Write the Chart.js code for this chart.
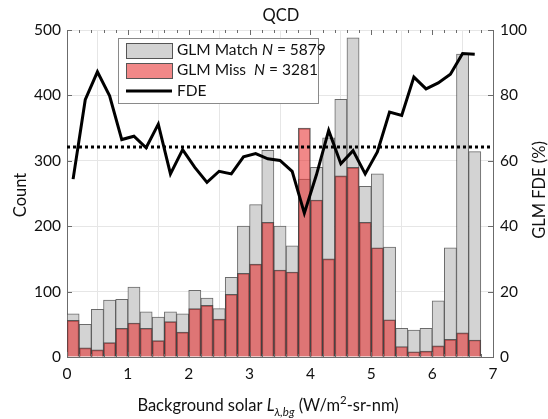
<!DOCTYPE html>
<html>
<head>
<meta charset="utf-8">
<script src="https://cdn.jsdelivr.net/npm/chart.js@4.4.0/dist/chart.umd.min.js"></script>
<style>
  html, body { margin: 0; padding: 0; background: #fff; }
</style>
</head>
<body>
<canvas id="myChart" width="548" height="419"></canvas>
<script>
// bin centres, 0.2 wide bins from 0 to 6.8
const binCenters = [0.1, 0.3, 0.5, 0.7, 0.9, 1.1, 1.3, 1.5, 1.7, 1.9,
    2.1, 2.3, 2.5, 2.7, 2.9, 3.1, 3.3, 3.5, 3.7, 3.9,
    4.1, 4.3, 4.5, 4.7, 4.9, 5.1, 5.3, 5.5, 5.7, 5.9,
    6.1, 6.3, 6.5, 6.7];
const matchCounts = [66, 50, 73, 87, 88, 107, 69, 61, 69, 66,
    102, 90, 74, 122, 200, 233, 316, 200, 170, 272,
    290, 335, 394, 488, 261, 280, 168, 44, 41, 44,
    86, 167, 463, 314];
const missCounts = [56, 14, 11, 22, 44, 52, 44, 25, 54, 38,
    74, 79, 58, 96, 128, 142, 206, 133, 130, 350,
    240, 150, 277, 290, 206, 167, 57, 16, 8, 9,
    17, 27, 37, 26];
const fdeValues = [54.4, 78.7, 87.2, 79.9, 66.5, 67.5, 64, 71.2, 56, 63.4,
    58, 53.4, 56.8, 56, 61.2, 62.2, 60.6, 60.1, 56.8, 44,
    55.8, 69.3, 59.1, 63.1, 56, 62.7, 74.9, 73.9, 85.6, 82,
    83.8, 86.5, 92.8, 92.6];
const overallFDE = 64.2;
const xTicks = [0, 1, 2, 3, 4, 5, 6, 7];
const countTicks = [0, 100, 200, 300, 400, 500];
const fdeTicks = [0, 20, 40, 60, 80, 100];
const legendNames = ["GLM Match", "GLM Miss", "FDE"];
const legendN = ["5879", "3281", null];

const FONT = "Lato, 'Open Sans', sans-serif";
const GREY = "rgb(211,211,211)";
const RED = "rgba(230,45,45,0.57)";

function pairs(xs, ys) {
    return xs.map((x, i) => ({ x: x, y: ys[i] }));
}

// text, axis ticks and legend drawn by hand (MATLAB look)
const decor = {
    id: 'decor',
    afterDraw(chart) {
        const ctx = chart.ctx;
        const a = chart.chartArea;
        const x = chart.scales.x, y = chart.scales.y, y2 = chart.scales.y2;
        ctx.save();

        // inward ticks
        ctx.strokeStyle = "#6b6b6b";
        ctx.lineWidth = 1;
        ctx.beginPath();
        for (let v = 0; v <= 7.001; v += 0.2) {
            const px = Math.round(x.getPixelForValue(v)) + 0.5;
            const major = Math.abs(v - Math.round(v)) < 0.01;
            const len = major ? 5 : 3;
            ctx.moveTo(px, a.top); ctx.lineTo(px, a.top + len);
            ctx.moveTo(px, a.bottom); ctx.lineTo(px, a.bottom - len);
        }
        countTicks.forEach(v => {
            const py = Math.round(y.getPixelForValue(v)) + 0.5;
            ctx.moveTo(a.left, py); ctx.lineTo(a.left + 5, py);
        });
        fdeTicks.forEach(v => {
            const py = Math.round(y2.getPixelForValue(v)) + 0.5;
            ctx.moveTo(a.right, py); ctx.lineTo(a.right - 5, py);
        });
        ctx.stroke();

        // legend
        const lx = 118, ly = 38, lw = 200, lh = 65;
        ctx.fillStyle = "#fff";
        ctx.fillRect(lx, ly, lw, lh);
        ctx.strokeStyle = "#8a8a8a";
        ctx.strokeRect(lx + 0.5, ly + 0.5, lw, lh);
        const rows = [50, 70, 91];
        ctx.textBaseline = "middle";
        ctx.textAlign = "left";
        rows.forEach((ry, i) => {
            if (i < 2) {
                ctx.fillStyle = i == 0 ? GREY : RED;
                ctx.fillRect(126, ry - 7, 46, 15);
                ctx.strokeStyle = "#555";
                ctx.strokeRect(126.5, ry - 6.5, 46, 15);
            } else {
                ctx.strokeStyle = "#000";
                ctx.lineWidth = 3;
                ctx.beginPath();
                ctx.moveTo(126, ry); ctx.lineTo(172, ry);
                ctx.stroke();
                ctx.lineWidth = 1;
            }
            ctx.fillStyle = "#111";
            ctx.font = "15.5px " + FONT;
            let tx = 177;
            let name = legendNames[i] + (i == 1 ? "  " : " ");
            ctx.fillText(legendNames[i] == "FDE" ? "FDE" : name, tx, ry);
            if (legendN[i]) {
                tx += ctx.measureText(name).width;
                ctx.font = "italic 15.5px " + FONT;
                ctx.fillText("N", tx, ry);
                tx += ctx.measureText("N").width;
                ctx.font = "15.5px " + FONT;
                ctx.fillText(" = " + legendN[i], tx, ry);
            }
        });

        // title
        ctx.fillStyle = "#111";
        ctx.textAlign = "center";
        ctx.font = "16.5px " + FONT;
        ctx.fillText("QCD", 281, 16);

        // y titles
        ctx.save();
        ctx.translate(21, 195);
        ctx.rotate(-Math.PI / 2);
        ctx.fillText("Count", 0, 0);
        ctx.restore();
        ctx.save();
        ctx.translate(540, 190);
        ctx.rotate(-Math.PI / 2);
        ctx.fillText("GLM FDE (%)", 0, 0);
        ctx.restore();

        // x title with sub/superscripts
        const parts = [
            { t: "Background solar ", f: "16.5px ", dy: 0 },
            { t: "L", f: "italic 16.5px ", dy: 0 },
            { t: "\u03bb,bg", f: "italic 11.5px ", dy: 5 },
            { t: " (W/m", f: "16.5px ", dy: 0 },
            { t: "2", f: "11.5px ", dy: -7 },
            { t: "-sr-nm)", f: "16.5px ", dy: 0 }
        ];
        let total = 0;
        parts.forEach(p => { ctx.font = p.f + FONT; p.w = ctx.measureText(p.t).width; total += p.w; });
        let px = 268 - total / 2;
        ctx.textAlign = "left";
        ctx.textBaseline = "alphabetic";
        parts.forEach(p => {
            ctx.font = p.f + FONT;
            ctx.fillText(p.t, px, 411 + p.dy);
            px += p.w;
        });
        ctx.restore();
    }
};

const ctx = document.getElementById('myChart');
const myGraph = new Chart(ctx, {
    type: 'bar',
    data: {
        datasets: [
            {
                type: 'line', label: 'FDE', yAxisID: 'y2', order: 0,
                data: pairs(binCenters, fdeValues),
                borderColor: '#000', borderWidth: 3, pointRadius: 0, tension: 0,
                borderJoinStyle: 'miter'
            },
            {
                type: 'line', label: 'mean', yAxisID: 'y2', order: 1,
                data: [{ x: 0, y: overallFDE }, { x: 7, y: overallFDE }],
                borderColor: '#000', borderWidth: 3, borderDash: [3, 3], pointRadius: 0
            },
            {
                label: 'GLM Miss', yAxisID: 'y', order: 2, grouped: false,
                data: pairs(binCenters, missCounts),
                backgroundColor: RED, borderColor: 'rgba(60,60,60,0.8)', borderWidth: 1,
                barPercentage: 1, categoryPercentage: 1
            },
            {
                label: 'GLM Match', yAxisID: 'y', order: 3, grouped: false,
                data: pairs(binCenters, matchCounts),
                backgroundColor: GREY, borderColor: 'rgba(70,70,70,0.8)', borderWidth: 1,
                barPercentage: 1, categoryPercentage: 1
            }
        ]
    },
    options: {
        responsive: false,
        animation: { duration: 0 },
        layout: { padding: { top: 30, left: 0, right: 0, bottom: 0 } },
        plugins: { legend: { display: false }, tooltip: { enabled: false } },
        scales: {
            x: {
                type: 'linear', min: 0, max: 7, offset: false,
                afterFit: s => { s.height = 62; },
                afterBuildTicks: s => { s.ticks = xTicks.map(v => ({ value: v })); },
                ticks: { color: '#111', font: { family: FONT, size: 15.5 }, padding: 8 },
                grid: { color: '#e6e6e6', drawTicks: false },
                border: { color: '#6b6b6b' }
            },
            y: {
                position: 'left', min: 0, max: 500,
                afterFit: s => { s.width = 67; },
                afterBuildTicks: s => { s.ticks = countTicks.map(v => ({ value: v })); },
                ticks: { color: '#111', font: { family: FONT, size: 15.5 }, padding: 6 },
                grid: { color: '#e6e6e6', drawTicks: false },
                border: { color: '#6b6b6b' }
            },
            y2: {
                position: 'right', min: 0, max: 100,
                afterFit: s => { s.width = 55; },
                afterBuildTicks: s => { s.ticks = fdeTicks.map(v => ({ value: v })); },
                ticks: { color: '#111', font: { family: FONT, size: 15.5 }, padding: 7 },
                grid: { display: false, drawTicks: false },
                border: { color: '#6b6b6b' }
            }
        }
    },
    plugins: [decor]
});
</script>
</body>
</html>
